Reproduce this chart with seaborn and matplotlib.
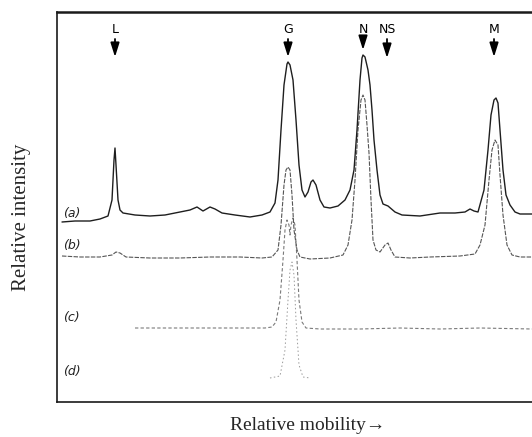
import matplotlib
matplotlib.use("Agg")
import matplotlib.pyplot as plt
import seaborn as sns
import pandas as pd

sns.set_theme(style="white")
plt.rcParams['font.family'] = ['Liberation Serif', 'DejaVu Serif']

# ---- data (mobility in arbitrary units, intensity in arbitrary units incl. offset) ----
a_mob = [5, 18, 33, 43, 51, 55, 57, 58, 59, 61, 63, 66, 78, 93, 108, 123, 133, 140, 146, 153,
         158, 165, 178, 193, 205, 213, 218, 221, 224, 227, 230, 231, 233, 236, 239, 242, 245,
         248, 251, 254, 256, 259, 263, 267, 273, 281, 288, 293, 297, 300, 303, 305, 306, 308,
         311, 313, 315, 317, 320, 323, 326, 331, 338, 345, 363, 383, 398, 408, 413, 417, 421,
         427, 431, 434, 437, 439, 441, 443, 446, 449, 453, 458, 463, 475]
a_int = [180, 181, 181, 183, 186, 202, 242, 254, 237, 202, 192, 189, 187, 186, 187, 190, 192,
         195, 191, 195, 193, 189, 187, 185, 187, 190, 199, 222, 272, 317, 338, 340, 337, 322,
         282, 237, 212, 205, 210, 220, 222, 217, 202, 195, 194, 196, 202, 212, 232, 272, 322,
         344, 347, 345, 332, 317, 292, 262, 232, 207, 198, 196, 190, 187, 186, 189, 189, 190,
         193, 191, 190, 212, 252, 287, 302, 304, 299, 272, 232, 207, 197, 190, 188, 188]

b_mob = [5, 23, 43, 55, 59, 63, 69, 93, 123, 153, 183, 205, 215, 221, 224, 227, 229, 231, 233,
         235, 237, 240, 243, 253, 273, 286, 291, 295, 298, 301, 304, 306, 308, 310, 312, 314,
         316, 319, 323, 328, 331, 334, 338, 353, 373, 403, 418, 423, 428, 432, 435, 438, 441,
         443, 446, 450, 455, 463, 475]
b_int = [146, 145, 145, 147, 150, 149, 145, 144, 144, 145, 145, 144, 145, 152, 177, 217, 232,
         235, 232, 207, 172, 152, 145, 143, 144, 147, 157, 182, 222, 272, 302, 307, 302, 277,
         249, 202, 162, 152, 150, 157, 159, 152, 145, 144, 145, 146, 148, 157, 177, 222, 252,
         262, 257, 227, 187, 157, 147, 145, 145]

c_mob = [78, 103, 143, 183, 208, 215, 219, 223, 226, 228, 230, 232, 233, 234, 236, 238, 240,
         242, 245, 249, 263, 303, 343, 383, 423, 475]
c_int = [74, 74, 74, 74, 74, 75, 80, 102, 142, 172, 182, 177, 167, 177, 184, 177, 142, 102,
         80, 74, 73, 73, 74, 73, 74, 73]

d_mob = [213, 223, 228, 231, 233, 235, 237, 239, 242, 246, 253]
d_int = [24, 26, 52, 102, 132, 140, 127, 82, 37, 25, 24]

trace_labels = ["(a)", "(b)", "(c)", "(d)"]
label_heights = [189, 156, 84, 31]

marker_names = ["L", "G", "N", "NS", "M"]
marker_mob = [58, 231, 306, 330, 437]
marker_tip = [345, 345, 352, 344, 345]

frames = []
for name, m, v in [("a", a_mob, a_int), ("b", b_mob, b_int),
                   ("c", c_mob, c_int), ("d", d_mob, d_int)]:
    frames.append(pd.DataFrame({"mobility": m, "intensity": v, "trace": name}))
df = pd.concat(frames, ignore_index=True)

# ---- figure ----
W, H = 532, 437
fig = plt.figure(figsize=(W / 100, H / 100), dpi=100)
left, right, top, bottom = 57, 532, 12, 402
ax = fig.add_axes([left / W, 1 - bottom / H, (right - left) / W, (bottom - top) / H])

styles = {"a": dict(color="#1e1e1e", lw=1.0),
          "b": dict(color="#555555", lw=0.8, ls=(0, (4, 1.2))),
          "c": dict(color="#7a7a7a", lw=0.8, ls=(0, (3, 2))),
          "d": dict(color="#9a9a9a", lw=0.7, ls=(0, (1.5, 2.5)))}
for name in ["d", "c", "b", "a"]:
    sub = df[df["trace"] == name]
    st = styles[name]
    sns.lineplot(data=sub, x="mobility", y="intensity", ax=ax, color=st["color"],
                 linewidth=st["lw"], linestyle=st.get("ls", "-"), estimator=None,
                 sort=False, legend=False)

ax.set_xlim(0, right - left)
ax.set_ylim(0, bottom - top)
ax.set_xticks([])
ax.set_yticks([])
ax.set_xlabel("")
ax.set_ylabel("")
for s in ["top", "left", "bottom"]:
    ax.spines[s].set_color("#1a1a1a")
    ax.spines[s].set_linewidth(1.2)
ax.spines["top"].set_linewidth(1.8)
ax.spines["right"].set_visible(False)

# trace labels
for lab, yv in zip(trace_labels, label_heights):
    ax.text(6, yv, lab, fontsize=9, family=["DejaVu Sans"], style="italic",
            ha="left", va="center", color="#222")

# band markers
for name, xm, tip in zip(marker_names, marker_mob, marker_tip):
    ax.annotate("", xy=(xm, tip), xytext=(xm, 363),
                arrowprops=dict(arrowstyle="-|>,head_length=0.7,head_width=0.22",
                                color="black", lw=1.3, shrinkA=0, shrinkB=0))
    ax.text(xm, 366, name, fontsize=9, family=["DejaVu Sans"], ha="center",
            va="bottom", color="black")

fig.text(308 / W, 1 - 425 / H, "Relative mobility\u2192", fontsize=14,
         ha="center", va="center", family=["Liberation Serif", "DejaVu Serif"])
fig.text(22 / W, 1 - 217 / H, "Relative intensity", fontsize=15, rotation=90,
         ha="center", va="center", family=["Liberation Serif"])

fig.savefig("out.png", dpi=100)
